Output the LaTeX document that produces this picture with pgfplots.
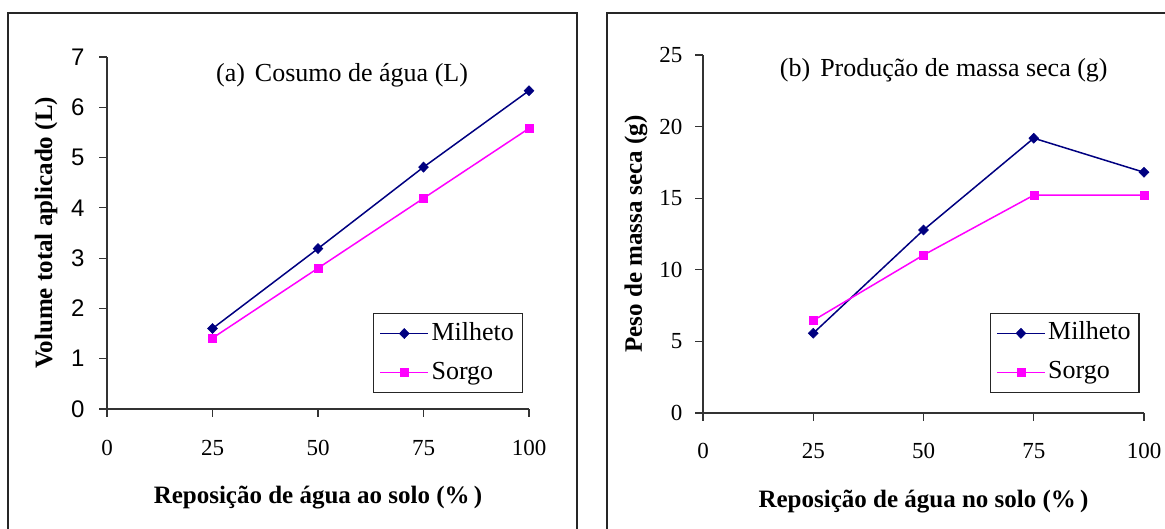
\documentclass[border=0pt]{standalone}
\usepackage{fontspec}
\setmainfont{Liberation Serif}
\newfontfamily\arialfont{Liberation Sans}
\usepackage{pgfplots}
\pgfplotsset{compat=1.18}
\definecolor{navyc}{RGB}{0,0,128}
\definecolor{magc}{RGB}{255,0,255}
\pgfplotsset{
  common/.style={
    scale only axis,
    anchor=south west,
    xmin=0, xmax=100,
    xtick={0,25,50,75,100},
    axis x line=bottom, axis y line=left,
    axis line style={-, line width=1.1pt, black!80},
    tick align=outside,
    major tick length=8pt,
    tick style={line width=1.1pt, black!80},
    /pgf/number format/assume math mode=true,
    xticklabel style={font=\fontsize{23}{23}\selectfont, anchor=center, yshift=-31pt},
    label style={font=\bfseries\fontsize{25}{25}\selectfont},
    title style={font=\fontsize{26}{26}\selectfont, anchor=center, yshift=0pt},
    legend cell align=left,
    legend image code/.code={\draw[mark repeat=2, mark phase=2, ##1] plot coordinates {(0pt,0pt) (24pt,0pt) (48pt,0pt)};},
    legend style={anchor=center, draw=black!85, line width=1.1pt, fill=white,
      inner sep=6pt, row sep=11pt, font=\fontsize{26}{26}\selectfont,
      nodes={inner sep=2.5pt, text height=18pt, text depth=5pt}},
  },
  mil/.style={color=navyc, line width=1.5pt, mark=diamond*, mark size=5pt, mark options={solid, fill=navyc, line width=0.6pt, xscale=1.3}},
  sor/.style={color=magc, line width=1.5pt, mark=square*, mark size=4pt, mark options={solid, fill=magc, line width=0.5pt}},
}
\begin{document}
\begin{tikzpicture}
\useasboundingbox (0,0) rectangle (1165pt,529pt);
\begin{scope}
\clip (0,0) rectangle (1165pt,529pt);
\draw[line width=1.3pt, black!85] (8pt,-5pt) -- (8pt,516pt) -- (577pt,516pt) -- (577pt,-5pt);
\draw[line width=1.3pt, black!85] (607pt,-5pt) -- (607pt,516pt) -- (1170pt,516pt);
\end{scope}

\begin{axis}[common,
  at={(107pt,120pt)}, width=422pt, height=352pt,
  ymin=0, ymax=7, ytick={0,1,...,7},
  yticklabel style={font=\arialfont\fontsize{24}{24}\selectfont, xshift=-11pt},
  xlabel={Reposição de água ao solo (\%\,)},
  xlabel style={at={(axis description cs:0.5,-0.252)}, anchor=center},
  ylabel={Volume total aplicado (L)},
  ylabel style={at={(axis description cs:-0.1445,0.5)}, anchor=center, rotate=0},
  title={(a)\hspace{10pt}Cosumo de água (L)},
  title style={at={(axis description cs:0.557,0.932)}},
  legend style={at={(0.808,0.159)}},
]
\addplot[mil] coordinates {(25,1.60) (50,3.19) (75,4.81) (100,6.33)};
\addplot[sor] coordinates {(25,1.41) (50,2.80) (75,4.19) (100,5.58)};
\legend{Milheto, Sorgo}
\end{axis}

\begin{axis}[common,
  at={(703pt,116pt)}, width=441pt, height=358pt,
  ymin=0, ymax=25, ytick={0,5,...,25},
  yticklabel style={font=\fontsize{23}{23}\selectfont, xshift=-9pt},
  xticklabel style={yshift=1pt},
  xlabel={Reposição de água no solo (\%\,)},
  xlabel style={at={(axis description cs:0.5,-0.248)}, anchor=center},
  ylabel={Peso de massa seca (g)},
  ylabel style={at={(axis description cs:-0.152,0.5)}, anchor=center, rotate=0},
  title={(b)\hspace{10pt}Produção de massa seca (g)},
  title style={at={(axis description cs:0.546,0.941)}},
  legend style={at={(0.820,0.168)}},
]
\addplot[mil] coordinates {(25,5.57) (50,12.78) (75,19.19) (100,16.81)};
\addplot[sor] coordinates {(25,6.46) (50,11.03) (75,15.21) (100,15.21)};
\legend{Milheto, Sorgo}
\end{axis}
\end{tikzpicture}
\end{document}
